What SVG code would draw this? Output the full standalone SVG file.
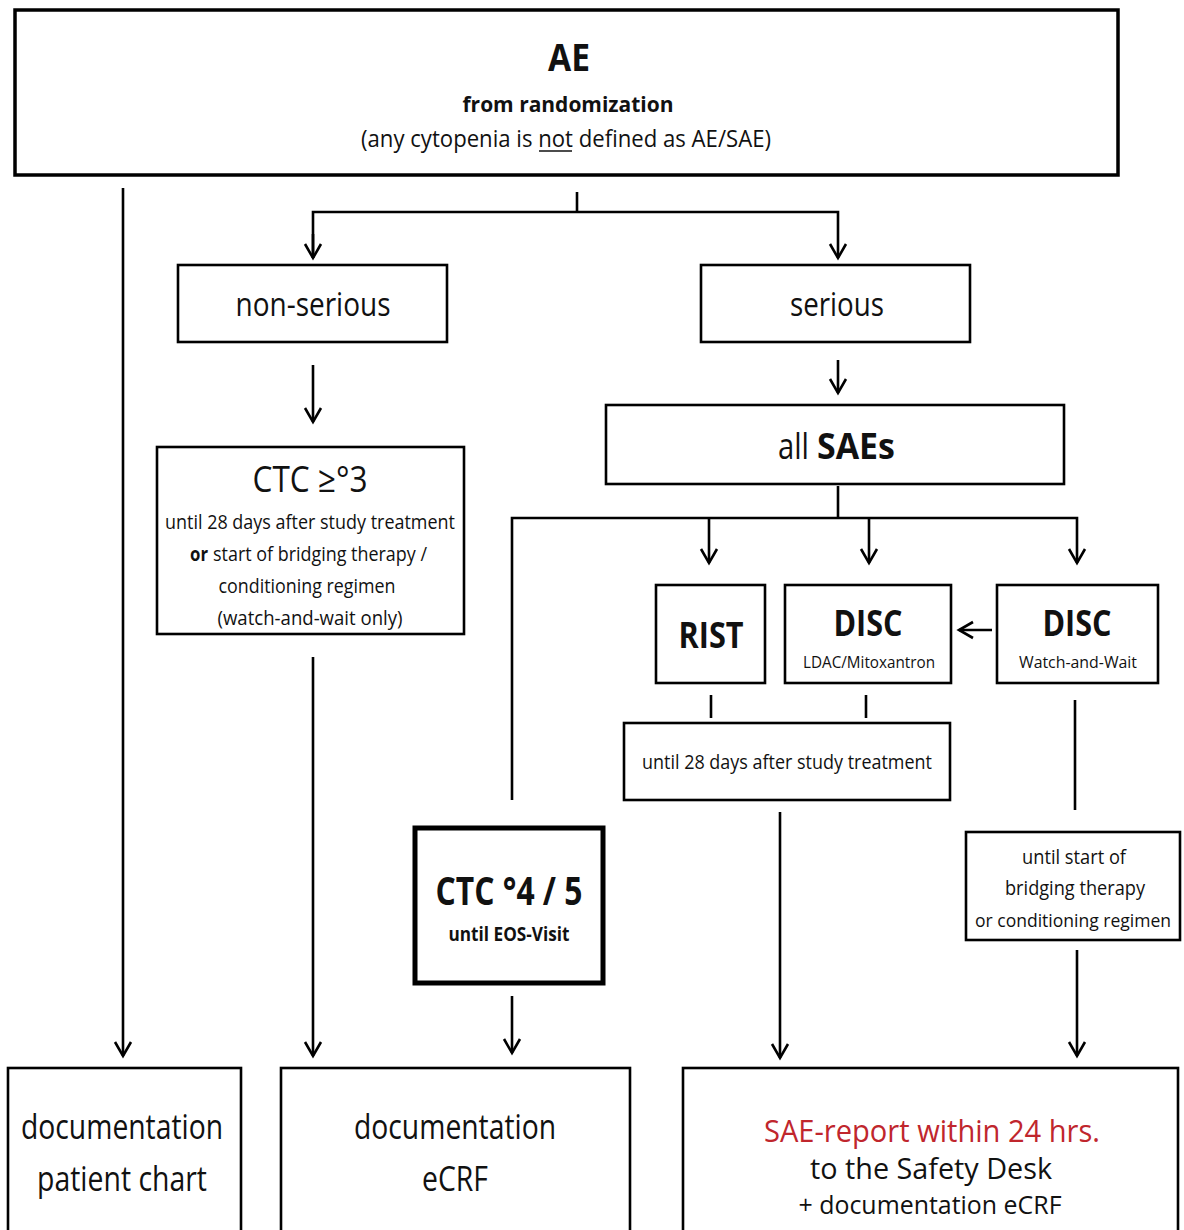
<svg xmlns="http://www.w3.org/2000/svg" width="1184" height="1230" viewBox="0 0 1184 1230">
<style>
.b{fill:#fff;stroke:#000;stroke-width:2.6}
.t{font-family:"Open Sans","Liberation Sans",sans-serif;fill:#111;text-anchor:middle}
.s{text-anchor:start}
.bd{font-weight:bold}
.c{fill:none;stroke:#000;stroke-width:2.6}
.red{fill:#c0262d}
</style>
<defs>
<marker id="ah" markerUnits="userSpaceOnUse" markerWidth="20" markerHeight="20" refX="0" refY="0" orient="auto" overflow="visible">
<path d="M-14,-8 L0,0 L-14,8" fill="none" stroke="#000" stroke-width="2.6"/>
</marker>
</defs>
<rect width="1184" height="1230" fill="#fff"/>
<g id="connectors">
<path class="c" d="M123,188 V1056" marker-end="url(#ah)"/>
<path class="c" d="M577,192 V212"/>
<path class="c" d="M313,258 V212 H838 V258" marker-end="url(#ah)"/>
<path class="c" d="M313,234 V258" marker-end="url(#ah)"/>
<path class="c" d="M313,365 V422" marker-end="url(#ah)"/>
<path class="c" d="M838,360 V393" marker-end="url(#ah)"/>
<path class="c" d="M838,486 V518"/>
<path class="c" d="M512,800 V518 H1077 V563" marker-end="url(#ah)"/>
<path class="c" d="M709,518 V563" marker-end="url(#ah)"/>
<path class="c" d="M869,518 V563" marker-end="url(#ah)"/>
<path class="c" d="M992,630 H959" marker-end="url(#ah)"/>
<path class="c" d="M711,695 V718"/>
<path class="c" d="M866,695 V718"/>
<path class="c" d="M1075,700 V810"/>
<path class="c" d="M313,657 V1056" marker-end="url(#ah)"/>
<path class="c" d="M512,996 V1053" marker-end="url(#ah)"/>
<path class="c" d="M780,812 V1058" marker-end="url(#ah)"/>
<path class="c" d="M1077,950 V1056" marker-end="url(#ah)"/>
</g>
<g id="ae">
<rect class="b" x="15" y="10" width="1103" height="165" style="stroke-width:3.5"/>
<text class="t bd" x="569" y="71" font-size="38" textLength="42" lengthAdjust="spacingAndGlyphs">AE</text>
<text class="t bd" x="568" y="112" font-size="22" textLength="211" lengthAdjust="spacingAndGlyphs">from randomization</text>
<text class="t" x="566" y="147" font-size="23" textLength="410" lengthAdjust="spacingAndGlyphs">(any cytopenia is not defined as AE/SAE)</text>
<line x1="539" y1="151" x2="572" y2="151" stroke="#111" stroke-width="1.6"/>
</g>
<g id="non-serious">
<rect class="b" x="178" y="265" width="269" height="77"/>
<text class="t" x="313" y="316" font-size="32" textLength="155" lengthAdjust="spacingAndGlyphs">non-serious</text>
</g>
<g id="serious">
<rect class="b" x="701" y="265" width="269" height="77"/>
<text class="t" x="837" y="316" font-size="32" textLength="94" lengthAdjust="spacingAndGlyphs">serious</text>
</g>
<g id="all-saes">
<rect class="b" x="606" y="405" width="458" height="79"/>
<text class="t s" x="778" y="459" font-size="36" textLength="31" lengthAdjust="spacingAndGlyphs">all</text>
<text class="t s bd" x="817" y="459" font-size="36" textLength="78" lengthAdjust="spacingAndGlyphs">SAEs</text>
</g>
<g id="ctc3">
<rect class="b" x="157" y="447" width="307" height="187"/>
<text class="t" x="310" y="492" font-size="36" textLength="115" lengthAdjust="spacingAndGlyphs">CTC ≥°3</text>
<text class="t" x="310" y="529" font-size="20" textLength="290" lengthAdjust="spacingAndGlyphs">until 28 days after study treatment</text>
<text class="t s bd" x="190" y="561" font-size="20" textLength="18" lengthAdjust="spacingAndGlyphs">or</text>
<text class="t s" x="213" y="561" font-size="20" textLength="214" lengthAdjust="spacingAndGlyphs">start of bridging therapy /</text>
<text class="t" x="307" y="593" font-size="20" textLength="177" lengthAdjust="spacingAndGlyphs">conditioning regimen</text>
<text class="t" x="310" y="625" font-size="20" textLength="185" lengthAdjust="spacingAndGlyphs">(watch-and-wait only)</text>
</g>
<g id="rist">
<rect class="b" x="656" y="585" width="109" height="98"/>
<text class="t bd" x="711" y="648" font-size="36" textLength="65" lengthAdjust="spacingAndGlyphs">RIST</text>
</g>
<g id="disc-ldac">
<rect class="b" x="785" y="585" width="166" height="98"/>
<text class="t bd" x="868" y="636" font-size="36" textLength="69" lengthAdjust="spacingAndGlyphs">DISC</text>
<text class="t" x="869" y="668" font-size="16" textLength="132" lengthAdjust="spacingAndGlyphs">LDAC/Mitoxantron</text>
</g>
<g id="disc-ww">
<rect class="b" x="997" y="585" width="161" height="98"/>
<text class="t bd" x="1077" y="636" font-size="36" textLength="69" lengthAdjust="spacingAndGlyphs">DISC</text>
<text class="t" x="1078" y="668" font-size="16" textLength="118" lengthAdjust="spacingAndGlyphs">Watch-and-Wait</text>
</g>
<g id="until-28">
<rect class="b" x="624" y="723" width="326" height="77"/>
<text class="t" x="787" y="769" font-size="20" textLength="290" lengthAdjust="spacingAndGlyphs">until 28 days after study treatment</text>
</g>
<g id="ctc45">
<rect class="b" x="415" y="828" width="188" height="155" style="stroke-width:5"/>
<text class="t bd" x="509" y="905" font-size="40" textLength="147" lengthAdjust="spacingAndGlyphs">CTC °4 / 5</text>
<text class="t bd" x="509" y="941" font-size="20" textLength="121" lengthAdjust="spacingAndGlyphs">until EOS-Visit</text>
</g>
<g id="until-start">
<rect class="b" x="966" y="832" width="214" height="108"/>
<text class="t" x="1074" y="864" font-size="20" textLength="104" lengthAdjust="spacingAndGlyphs">until start of</text>
<text class="t" x="1075" y="895" font-size="20" textLength="140" lengthAdjust="spacingAndGlyphs">bridging therapy</text>
<text class="t" x="1073" y="927" font-size="18" textLength="196" lengthAdjust="spacingAndGlyphs">or conditioning regimen</text>
</g>
<g id="doc-chart">
<rect class="b" x="8" y="1068" width="233" height="180"/>
<text class="t" x="122" y="1139" font-size="34" textLength="202" lengthAdjust="spacingAndGlyphs">documentation</text>
<text class="t" x="122" y="1191" font-size="34" textLength="170" lengthAdjust="spacingAndGlyphs">patient chart</text>
</g>
<g id="doc-ecrf">
<rect class="b" x="281" y="1068" width="349" height="180"/>
<text class="t" x="455" y="1139" font-size="34" textLength="202" lengthAdjust="spacingAndGlyphs">documentation</text>
<text class="t" x="455" y="1191" font-size="34" textLength="66" lengthAdjust="spacingAndGlyphs">eCRF</text>
</g>
<g id="sae-report">
<rect class="b" x="683" y="1068" width="495" height="180"/>
<text class="t red" x="932" y="1142" font-size="31" textLength="336" lengthAdjust="spacingAndGlyphs">SAE-report  within 24 hrs.</text>
<text class="t" x="931" y="1179" font-size="30" textLength="242" lengthAdjust="spacingAndGlyphs">to the Safety Desk</text>
<text class="t" x="930" y="1214" font-size="25" textLength="263" lengthAdjust="spacingAndGlyphs">+ documentation eCRF</text>
</g>
</svg>
